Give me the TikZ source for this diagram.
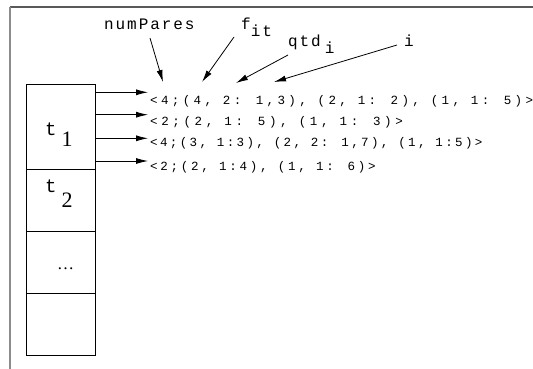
\documentclass[tikz,border=0pt]{standalone}
\usepackage{fontspec}
\setmainfont{Liberation Serif}
\newfontfamily\monolineA[LetterSpace=27]{Liberation Mono}
\newfontfamily\monolineB[LetterSpace=29]{Liberation Mono}
\newfontfamily\monolineC[LetterSpace=19]{Liberation Mono}
\newfontfamily\monolineD[LetterSpace=22]{Liberation Mono}
\newfontfamily\monolab[LetterSpace=12]{Liberation Mono}
\newfontfamily\monoplain{Liberation Mono}
\usetikzlibrary{arrows.meta}
\definecolor{frametop}{gray}{0.35}
\definecolor{frameleft}{gray}{0.55}
\begin{document}
\begin{tikzpicture}[x=1pt,y=-1pt,
  cell/.style={draw, line width=0.8pt, minimum width=69pt, inner sep=0pt},
  arr/.style={-{Latex[length=12pt,width=6pt]}, line width=0.8pt},
  rowtext/.style={anchor=base west, inner sep=0pt},
  labtext/.style={anchor=base west, inner sep=0pt, font=\fontsize{16}{16}\monolab},
  celltext/.style={anchor=base west, inner sep=0pt}]
\useasboundingbox (0,0) rectangle (533,369);
% frame
\draw[frametop, line width=1.4pt] (10,7) -- (533,7);
\draw[frameleft, line width=1.6pt] (10,7) -- (10,369);
% stack cells
\node[cell, minimum height=85pt] (c1) at (60.5,126.5) {};
\node[cell, minimum height=62pt] (c2) at (60.5,200) {};
\node[cell, minimum height=62pt] (c3) at (60.5,262) {};
\node[cell, minimum height=62pt] (c4) at (60.5,324) {};
\node[celltext] (t1) at (45,135) {{\fontsize{19}{19}\monoplain t}\hspace{5pt}\raisebox{-12pt}{\fontsize{22}{22}\selectfont 1}};
\node[celltext] (t2) at (45,192) {{\fontsize{19}{19}\monoplain t}\hspace{5pt}\raisebox{-15pt}{\fontsize{22}{22}\selectfont 2}};
\node[celltext] (dots) at (57,269) {\fontsize{17}{17}\selectfont\ldots};
% row texts
\node[rowtext, font=\fontsize{12.5}{12.5}\monolineA] (r1) at (150,104) {<4;(4, 2: 1,3), (2, 1: 2), (1, 1: 5)>};
\node[rowtext, font=\fontsize{12.5}{12.5}\monolineB] (r2) at (150,125.7) {<2;(2, 1: 5), (1, 1: 3)>};
\node[rowtext, font=\fontsize{12.5}{12.5}\monolineC] (r3) at (150,146) {<4;(3, 1:3), (2, 2: 1,7), (1, 1:5)>};
\node[rowtext, font=\fontsize{12.5}{12.5}\monolineD] (r4) at (150,170) {<2;(2, 1:4), (1, 1: 6)>};
% arrows from cell to rows
\coordinate (a1) at (148,92.3);
\coordinate (a2) at (148,114.7);
\coordinate (a3) at (148,138.3);
\coordinate (a4) at (148,161);
\draw[arr] (c1.east |- a1) -- (a1);
\draw[arr] (c1.east |- a2) -- (a2);
\draw[arr] (c1.east |- a3) -- (a3);
\draw[arr] (c1.east |- a4) -- (a4);
% labels
\node[labtext] (lnum) at (104,30) {numPares};
\node[labtext] (lf) at (241,30) {f\raisebox{-7pt}{it}};
\node[labtext] (lq) at (288,46.5) {qtd\hspace{4pt}\raisebox{-7pt}{i}};
\node[labtext] (li) at (404,46.5) {i};
\coordinate (snum) at (150,38);
\coordinate (tnum) at (163,82);
\coordinate (sf) at (234,37);
\coordinate (tf) at (202,82);
\coordinate (sq) at (288,55);
\coordinate (tq) at (236,83);
\coordinate (si) at (397,45);
\coordinate (ti) at (274,82);
\draw[arr] (snum) -- (tnum);
\draw[arr] (sf) -- (tf);
\draw[arr] (sq) -- (tq);
\draw[arr] (si) -- (ti);
\end{tikzpicture}
\end{document}
